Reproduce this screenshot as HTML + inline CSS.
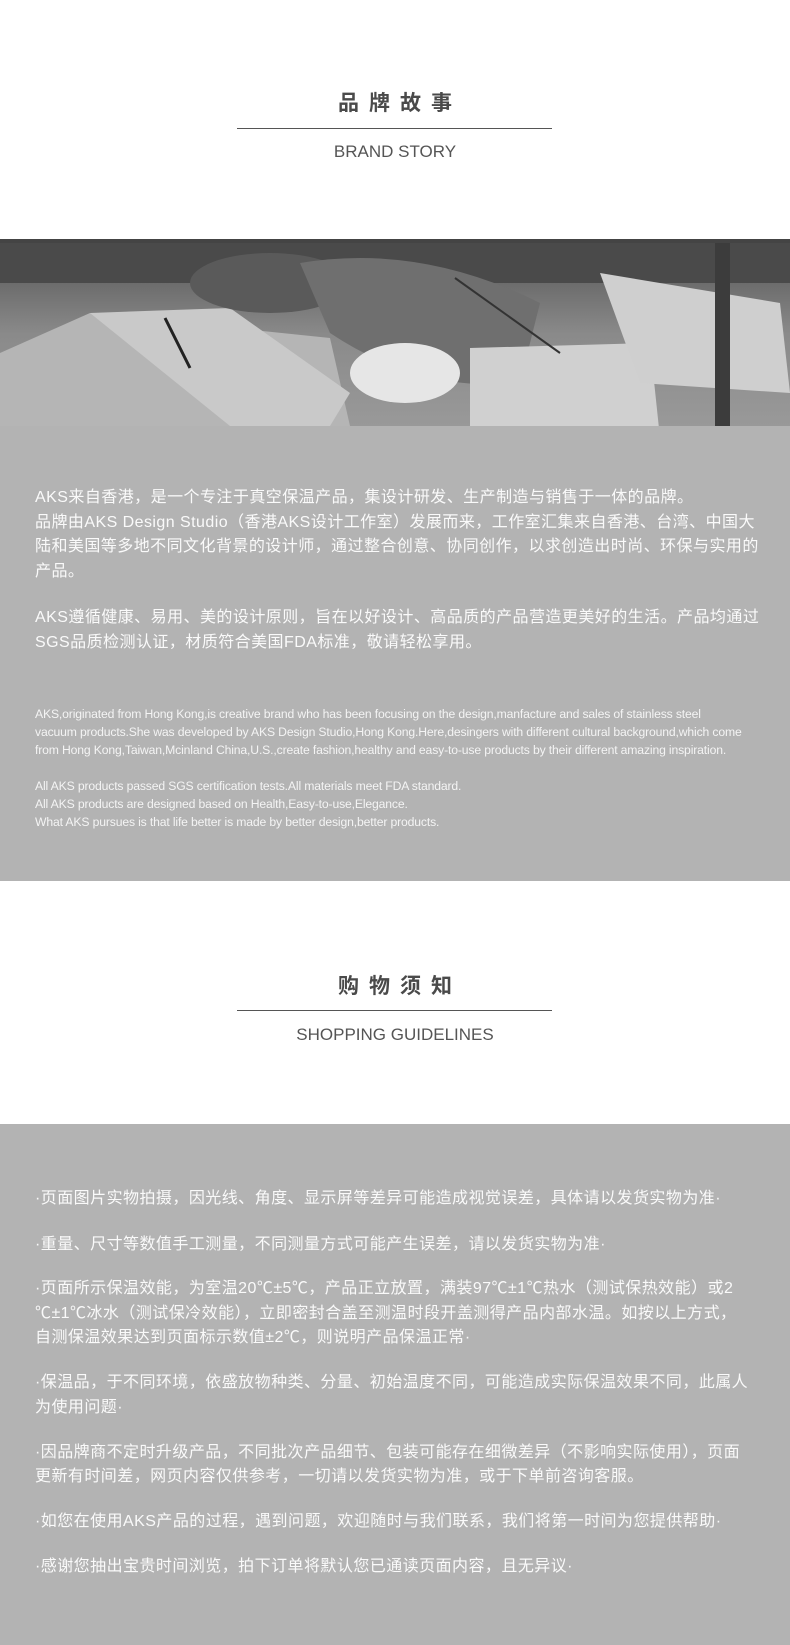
<!DOCTYPE html>
<html><head><meta charset="utf-8">
<style>
*{margin:0;padding:0;box-sizing:border-box}
body{width:790px;height:1645px;position:relative;background:#fff;font-family:"Liberation Sans","Noto Sans CJK SC",sans-serif;overflow:hidden}
.abs{position:absolute}
.title{left:0;width:790px;text-align:center;font-size:21px;font-weight:bold;color:#4a4a4a;letter-spacing:10px;padding-left:10px;line-height:24px}
.rule{left:237px;width:315px;height:1px;background:#555}
.sub{left:0;width:790px;text-align:center;font-size:17px;color:#555;line-height:20px}
.gray{left:0;width:790px;background:#b3b3b3}
.cn{left:35px;color:#fafafa;font-size:16px;line-height:24.5px;white-space:nowrap;letter-spacing:0.45px}
.en{left:35px;color:#f4f4f4;font-size:12.2px;line-height:18px;white-space:nowrap;letter-spacing:-0.15px}
</style></head><body>
<div class="abs title" style="top:92px">品牌故事</div>
<div class="abs rule" style="top:128px"></div>
<div class="abs sub" style="top:142px">BRAND STORY</div>

<div class="abs" style="left:0;top:239px;width:790px;height:187px;background:#444">
<svg width="790" height="183" style="position:absolute;top:4px;left:0">
<defs><linearGradient id="g" x1="0" y1="0" x2="0" y2="1"><stop offset="0" stop-color="#555"/><stop offset="0.5" stop-color="#8a8a8a"/><stop offset="1" stop-color="#999"/></linearGradient></defs>
<rect width="790" height="183" fill="url(#g)"/>
<rect x="0" y="0" width="790" height="40" fill="#4a4a4a"/>
<polygon points="0,110 90,70 330,95 350,183 0,183" fill="#b5b5b5"/>
<polygon points="90,70 230,65 350,150 330,183 230,183" fill="#c9c9c9"/>
<ellipse cx="270" cy="40" rx="80" ry="30" fill="#5a5a5a"/>
<path d="M300 20 Q420 0 540 60 L520 140 Q420 150 330 90 Z" fill="#6f6f6f"/>
<polygon points="470,105 650,100 660,195 470,183" fill="#d0d0d0"/>
<polygon points="600,30 780,60 790,150 640,140" fill="#cfcfcf"/>
<ellipse cx="405" cy="130" rx="55" ry="30" fill="#e6e6e6"/>
<rect x="715" y="0" width="15" height="183" fill="#3c3c3c"/>
<line x1="165" y1="75" x2="190" y2="125" stroke="#222" stroke-width="3"/>
<line x1="455" y1="35" x2="560" y2="110" stroke="#333" stroke-width="2"/>
</svg></div>

<div class="abs gray" style="top:426px;height:455px"></div>
<div class="abs cn" style="top:486px">AKS来自香港，是一个专注于真空保温产品，集设计研发、生产制造与销售于一体的品牌。<br>品牌由AKS Design Studio（香港AKS设计工作室）发展而来，工作室汇集来自香港、台湾、中国大<br>陆和美国等多地不同文化背景的设计师，通过整合创意、协同创作，以求创造出时尚、环保与实用的<br>产品。</div>
<div class="abs cn" style="top:606px">AKS遵循健康、易用、美的设计原则，旨在以好设计、高品质的产品营造更美好的生活。产品均通过<br>SGS品质检测认证，材质符合美国FDA标准，敬请轻松享用。</div>
<div class="abs en" style="top:705px">AKS,originated from Hong Kong,is creative brand who has been focusing on the design,manfacture and sales of stainless steel<br>vacuum products.She was developed by AKS Design Studio,Hong Kong.Here,desingers with different cultural background,which come<br>from Hong Kong,Taiwan,Mcinland China,U.S.,create fashion,healthy and easy-to-use products by their different amazing inspiration.</div>
<div class="abs en" style="top:777px">All AKS products passed SGS certification tests.All materials meet FDA standard.<br>All AKS products are designed based on Health,Easy-to-use,Elegance.<br>What AKS pursues is that life better is made by better design,better products.</div>

<div class="abs title" style="top:975px">购物须知</div>
<div class="abs rule" style="top:1010px"></div>
<div class="abs sub" style="top:1025px">SHOPPING GUIDELINES</div>

<div class="abs gray" style="top:1124px;height:521px"></div>
<div class="abs cn" style="top:1186px;line-height:25px">·页面图片实物拍摄，因光线、角度、显示屏等差异可能造成视觉误差，具体请以发货实物为准·</div>
<div class="abs cn" style="top:1232px;line-height:25px">·重量、尺寸等数值手工测量，不同测量方式可能产生误差，请以发货实物为准·</div>
<div class="abs cn" style="top:1277px;line-height:24.5px">·页面所示保温效能，为室温20℃±5℃，产品正立放置，满装97℃±1℃热水（测试保热效能）或2<br>℃±1℃冰水（测试保冷效能），立即密封合盖至测温时段开盖测得产品内部水温。如按以上方式，<br>自测保温效果达到页面标示数值±2℃，则说明产品保温正常·</div>
<div class="abs cn" style="top:1371px;line-height:24.5px">·保温品，于不同环境，依盛放物种类、分量、初始温度不同，可能造成实际保温效果不同，此属人<br>为使用问题·</div>
<div class="abs cn" style="top:1441px;line-height:24px">·因品牌商不定时升级产品，不同批次产品细节、包装可能存在细微差异（不影响实际使用），页面<br>更新有时间差，网页内容仅供参考，一切请以发货实物为准，或于下单前咨询客服。</div>
<div class="abs cn" style="top:1509px;line-height:25px">·如您在使用AKS产品的过程，遇到问题，欢迎随时与我们联系，我们将第一时间为您提供帮助·</div>
<div class="abs cn" style="top:1554px;line-height:25px">·感谢您抽出宝贵时间浏览，拍下订单将默认您已通读页面内容，且无异议·</div>
</body></html>
